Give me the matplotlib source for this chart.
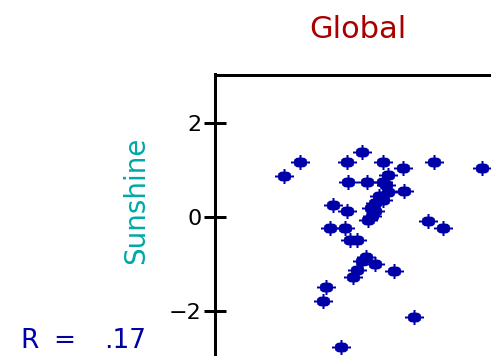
import matplotlib
matplotlib.use("Agg")
import matplotlib.pyplot as plt
from matplotlib.path import Path
import numpy as np

# data (x in arbitrary units, y = Sunshine)
global_x = [1.48, 1.81, 3.13, 2.81, 3.59, 4.01, 4.67, 5.68, 2.84, 3.23,
            3.59, 3.69, 4.03, 3.69, 3.59, 3.41, 2.51, 2.81, 3.41, 3.27,
            4.54, 4.85, 2.45, 2.77, 2.88, 3.02, 3.22, 3.41, 3.81, 3.02,
            2.94, 2.37, 2.30, 4.24, 2.68, 3.64, 3.50, 3.33, 3.35, 3.14]
sunshine = [0.88, 1.16, 1.39, 1.16, 1.16, 1.04, 1.16, 1.04, 0.75, 0.75,
            0.75, 0.89, 0.55, 0.54, 0.36, 0.29, 0.26, 0.13, 0.13, -0.06,
            -0.09, -0.23, -0.23, -0.23, -0.50, -0.50, -0.86, -1.00, -1.14, -1.13,
            -1.27, -1.48, -1.78, -2.12, -2.76, 0.68, 0.45, 0.20, 0.03, -0.93]
yticks = [-2, 0, 2]
ytick_labels = ["\u22122", "0", "2"]
title = "Global"
ylabel = "Sunshine"
r_text = ".17"

W, H = 491, 356
fig = plt.figure(figsize=(W / 100, H / 100), dpi=100)

# axes in pixel coordinates (extends beyond the figure right/bottom)
left_px, top_px, right_px, bottom_px = 214.7, 74.5, 700, 600
unit = 47.0
zero_py = 217.0
ax = fig.add_axes([left_px / W, 1 - bottom_px / H,
                   (right_px - left_px) / W, (bottom_px - top_px) / H])
ax.set_ylim((zero_py - bottom_px) / unit, (zero_py - top_px) / unit)
ax.set_xlim(0, (right_px - left_px) / unit)

# custom marker: chunky body with cross spikes
hw = 1.0
verts = [(9.5, hw), (6.5, hw), (6.2, 3), (4, 4.6), (hw, 5), (hw, 7.5),
         (-hw, 7.5), (-hw, 5), (-4, 4.6), (-6.2, 3), (-6.5, hw), (-9.5, hw),
         (-9.5, -hw), (-6.5, -hw), (-6.2, -3), (-4, -4.6), (-hw, -5), (-hw, -7.5),
         (hw, -7.5), (hw, -5), (4, -4.6), (6.2, -3), (6.5, -hw), (9.5, -hw), (9.5, hw)]
marker = Path(verts, closed=True)
ax.plot(global_x, sunshine, linestyle="none", marker=marker,
        markersize=19 * 0.72, color="#0000A8", markeredgewidth=0, clip_on=False)

for s in ["right", "bottom"]:
    ax.spines[s].set_visible(False)
for s in ["top", "left"]:
    ax.spines[s].set_linewidth(3 * 0.72)
    ax.spines[s].set_color("black")

ax.set_xticks([])
ax.set_yticks(yticks)
ax.set_yticklabels(ytick_labels)
ax.tick_params(axis="y", direction="inout", length=23 * 0.72, width=3 * 0.72,
               pad=1, labelsize=16, colors="black")

fig.text(357.5 / W, 1 - 38 / H, title, color="#A80000", fontsize=22,
         ha="center", va="baseline", family="DejaVu Sans")
fig.text(136 / W, 1 - 200 / H, ylabel, color="#00A8A8", fontsize=20,
         rotation=90, ha="center", va="center", family="DejaVu Sans")
fig.text(20 / W, 1 - 354 / H, "R", color="#0000A8", fontsize=19,
         ha="left", va="bottom")
fig.text(53 / W, 1 - 354 / H, "=", color="#0000A8", fontsize=19,
         ha="left", va="bottom")
fig.text(104 / W, 1 - 354 / H, r_text, color="#0000A8", fontsize=19,
         ha="left", va="bottom")

fig.savefig("out.png", dpi=100)
